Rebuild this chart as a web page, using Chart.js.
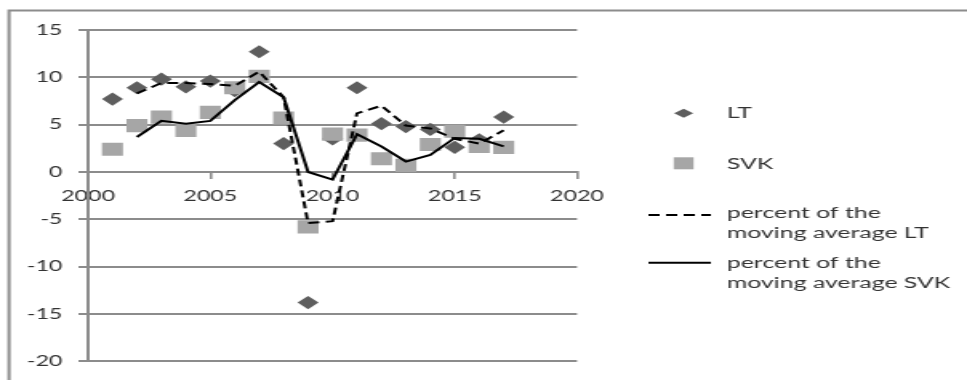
<!DOCTYPE html>
<html>
<head>
<meta charset="utf-8">
<script src="https://cdn.jsdelivr.net/npm/chart.js@4.4.1/dist/chart.umd.min.js"></script>
<style>
  html, body { margin: 0; padding: 0; background: #fff; overflow: hidden; }
  /* the chart is laid out narrow and widened horizontally */
  #wrap {
    position: absolute; left: 0; top: 0;
    width: 604px; height: 380px;
    transform: scaleX(1.60099); transform-origin: 0 0;
  }
</style>
</head>
<body>
<div id="wrap"><canvas id="c"></canvas></div>
<script>
// Annual growth, percent
const years = [2001, 2002, 2003, 2004, 2005, 2006, 2007, 2008, 2009, 2010, 2011, 2012, 2013, 2014, 2015, 2016, 2017];
const ltValues  = [7.7, 8.9, 9.8, 9.0, 9.6, 8.6, 12.7, 3.0, -13.8, 3.5, 8.9, 5.1, 4.8, 4.5, 2.6, 3.4, 5.8];
const svkValues = [2.4, 4.9, 5.8, 4.4, 6.3, 8.9, 10.1, 5.7, -5.8, 4.0, 3.9, 1.4, 0.7, 2.9, 4.3, 2.7, 2.6];

// Moving averages, from 2002 on
const maYears = [2002, 2003, 2004, 2005, 2006, 2007, 2008, 2009, 2010, 2011, 2012, 2013, 2014, 2015, 2016, 2017];
const maLT  = [8.3, 9.4, 9.4, 9.3, 9.1, 10.6, 7.9, -5.4, -5.2, 6.2, 7.0, 4.9, 4.6, 3.5, 3.0, 4.4];
const maSVK = [3.7, 5.4, 5.1, 5.4, 7.6, 9.5, 7.9, 0.0, -0.8, 4.0, 2.7, 1.1, 1.8, 3.6, 3.5, 2.7];

const seriesNames = ['LT', 'SVK',
  ['percent of the', 'moving average LT'],
  ['percent of the', 'moving average SVK']];

const xTicks = { min: 2000, max: 2020, step: 5 };
const yTicks = { min: -20, max: 15, step: 5 };

const GRID = '#8c8c8c';
const TEXT = '#333333';
const FONT = 'Lato';

const pairs = (xs, ys) => xs.map((x, i) => ({ x: x, y: ys[i] }));

// gray frame along the top and left edges
const framePlugin = {
  id: 'frame',
  beforeDraw(chart) {
    const ctx = chart.ctx;
    ctx.save();
    ctx.strokeStyle = GRID;
    ctx.lineWidth = 2;
    ctx.beginPath();
    ctx.moveTo(5.6, chart.height);
    ctx.lineTo(5.6, 10.5);
    ctx.lineTo(chart.width, 10.5);
    ctx.stroke();
    ctx.restore();
  }
};

// legend on the right, one entry per series
const sideLegend = {
  id: 'sideLegend',
  afterDraw(chart, args, opts) {
    const ctx = chart.ctx;
    const ds = chart.data.datasets;
    ctx.save();
    ctx.font = opts.fontSize + 'px ' + FONT;
    ctx.fillStyle = TEXT;
    ctx.textBaseline = 'alphabetic';
    ctx.textAlign = 'left';
    opts.rows.forEach((row, i) => {
      const d = ds[i];
      const sx = opts.symbolX;
      ctx.save();
      if (row.kind === 'diamond') {
        ctx.fillStyle = d.backgroundColor;
        ctx.beginPath();
        ctx.moveTo(sx - 6, row.symbolY);
        ctx.lineTo(sx, row.symbolY - 4.5);
        ctx.lineTo(sx + 6, row.symbolY);
        ctx.lineTo(sx, row.symbolY + 4.5);
        ctx.closePath();
        ctx.fill();
      } else if (row.kind === 'square') {
        ctx.fillStyle = d.backgroundColor;
        ctx.fillRect(sx - 6.2, row.symbolY - 6, 12.4, 12);
      } else {
        ctx.strokeStyle = d.borderColor;
        ctx.lineWidth = d.borderWidth;
        ctx.setLineDash(d.borderDash || []);
        ctx.beginPath();
        ctx.moveTo(opts.lineX0, row.symbolY);
        ctx.lineTo(opts.lineX1, row.symbolY);
        ctx.stroke();
      }
      ctx.restore();
      const lines = [].concat(d.label);
      lines.forEach((t, k) => ctx.fillText(t, opts.textX, row.baseline + k * opts.lineGap));
    });
    ctx.restore();
  }
};

new Chart(document.getElementById('c'), {
  type: 'scatter',
  data: {
    datasets: [
      {
        label: seriesNames[0],
        data: pairs(years, ltValues),
        pointStyle: 'rectRot',
        pointRadius: 6.6,
        pointHoverRadius: 6.6,
        backgroundColor: '#5e5e5e',
        borderWidth: 0,
        showLine: false,
        order: 3
      },
      {
        label: seriesNames[1],
        data: pairs(years, svkValues),
        pointStyle: 'rect',
        pointRadius: 9.3,
        pointHoverRadius: 9.3,
        backgroundColor: '#a6a6a6',
        borderWidth: 0,
        showLine: false,
        order: 2
      },
      {
        label: seriesNames[2],
        data: pairs(maYears, maLT),
        showLine: true,
        borderColor: '#000',
        borderWidth: 2,
        borderDash: [7, 4],
        pointRadius: 0,
        tension: 0,
        fill: false,
        order: 1
      },
      {
        label: seriesNames[3],
        data: pairs(maYears, maSVK),
        showLine: true,
        borderColor: '#000',
        borderWidth: 2,
        pointRadius: 0,
        tension: 0,
        fill: false,
        order: 0
      }
    ]
  },
  options: {
    responsive: true,
    maintainAspectRatio: false,
    animation: false,
    devicePixelRatio: 1,
    layout: { padding: { left: 0, top: 30, right: 243.6, bottom: 14.5 } },
    plugins: {
      legend: { display: false },
      tooltip: { enabled: false },
      sideLegend: {
        fontSize: 15.5,
        lineGap: 19.7,
        symbolX: 427,
        lineX0: 405,
        lineX1: 444,
        textX: 454,
        rows: [
          { kind: 'diamond', symbolY: 113.3, baseline: 118.3 },
          { kind: 'square',  symbolY: 163.3, baseline: 169.3 },
          { kind: 'line',    symbolY: 215,   baseline: 218.3 },
          { kind: 'line',    symbolY: 262.7, baseline: 268.3 }
        ]
      }
    },
    scales: {
      x: {
        type: 'linear',
        position: { y: 0 },
        min: xTicks.min,
        max: xTicks.max,
        ticks: {
          stepSize: xTicks.step,
          color: TEXT,
          font: { family: FONT, size: 14.5 },
          padding: 10,
          maxRotation: 0,
          callback: v => String(v)
        },
        grid: {
          drawOnChartArea: false,
          drawTicks: true,
          tickLength: 6,
          color: GRID,
          lineWidth: 1.6
        },
        border: { display: true, color: GRID, width: 2 }
      },
      y: {
        min: yTicks.min,
        max: yTicks.max,
        afterFit: s => { s.width = 55; },
        ticks: {
          stepSize: yTicks.step,
          color: TEXT,
          font: { family: FONT, size: 14.5 },
          padding: 10
        },
        grid: {
          color: GRID,
          lineWidth: 2,
          tickLength: 6
        },
        border: { display: true, color: GRID, width: 2 }
      }
    }
  },
  plugins: [framePlugin, sideLegend]
});
</script>
</body>
</html>
